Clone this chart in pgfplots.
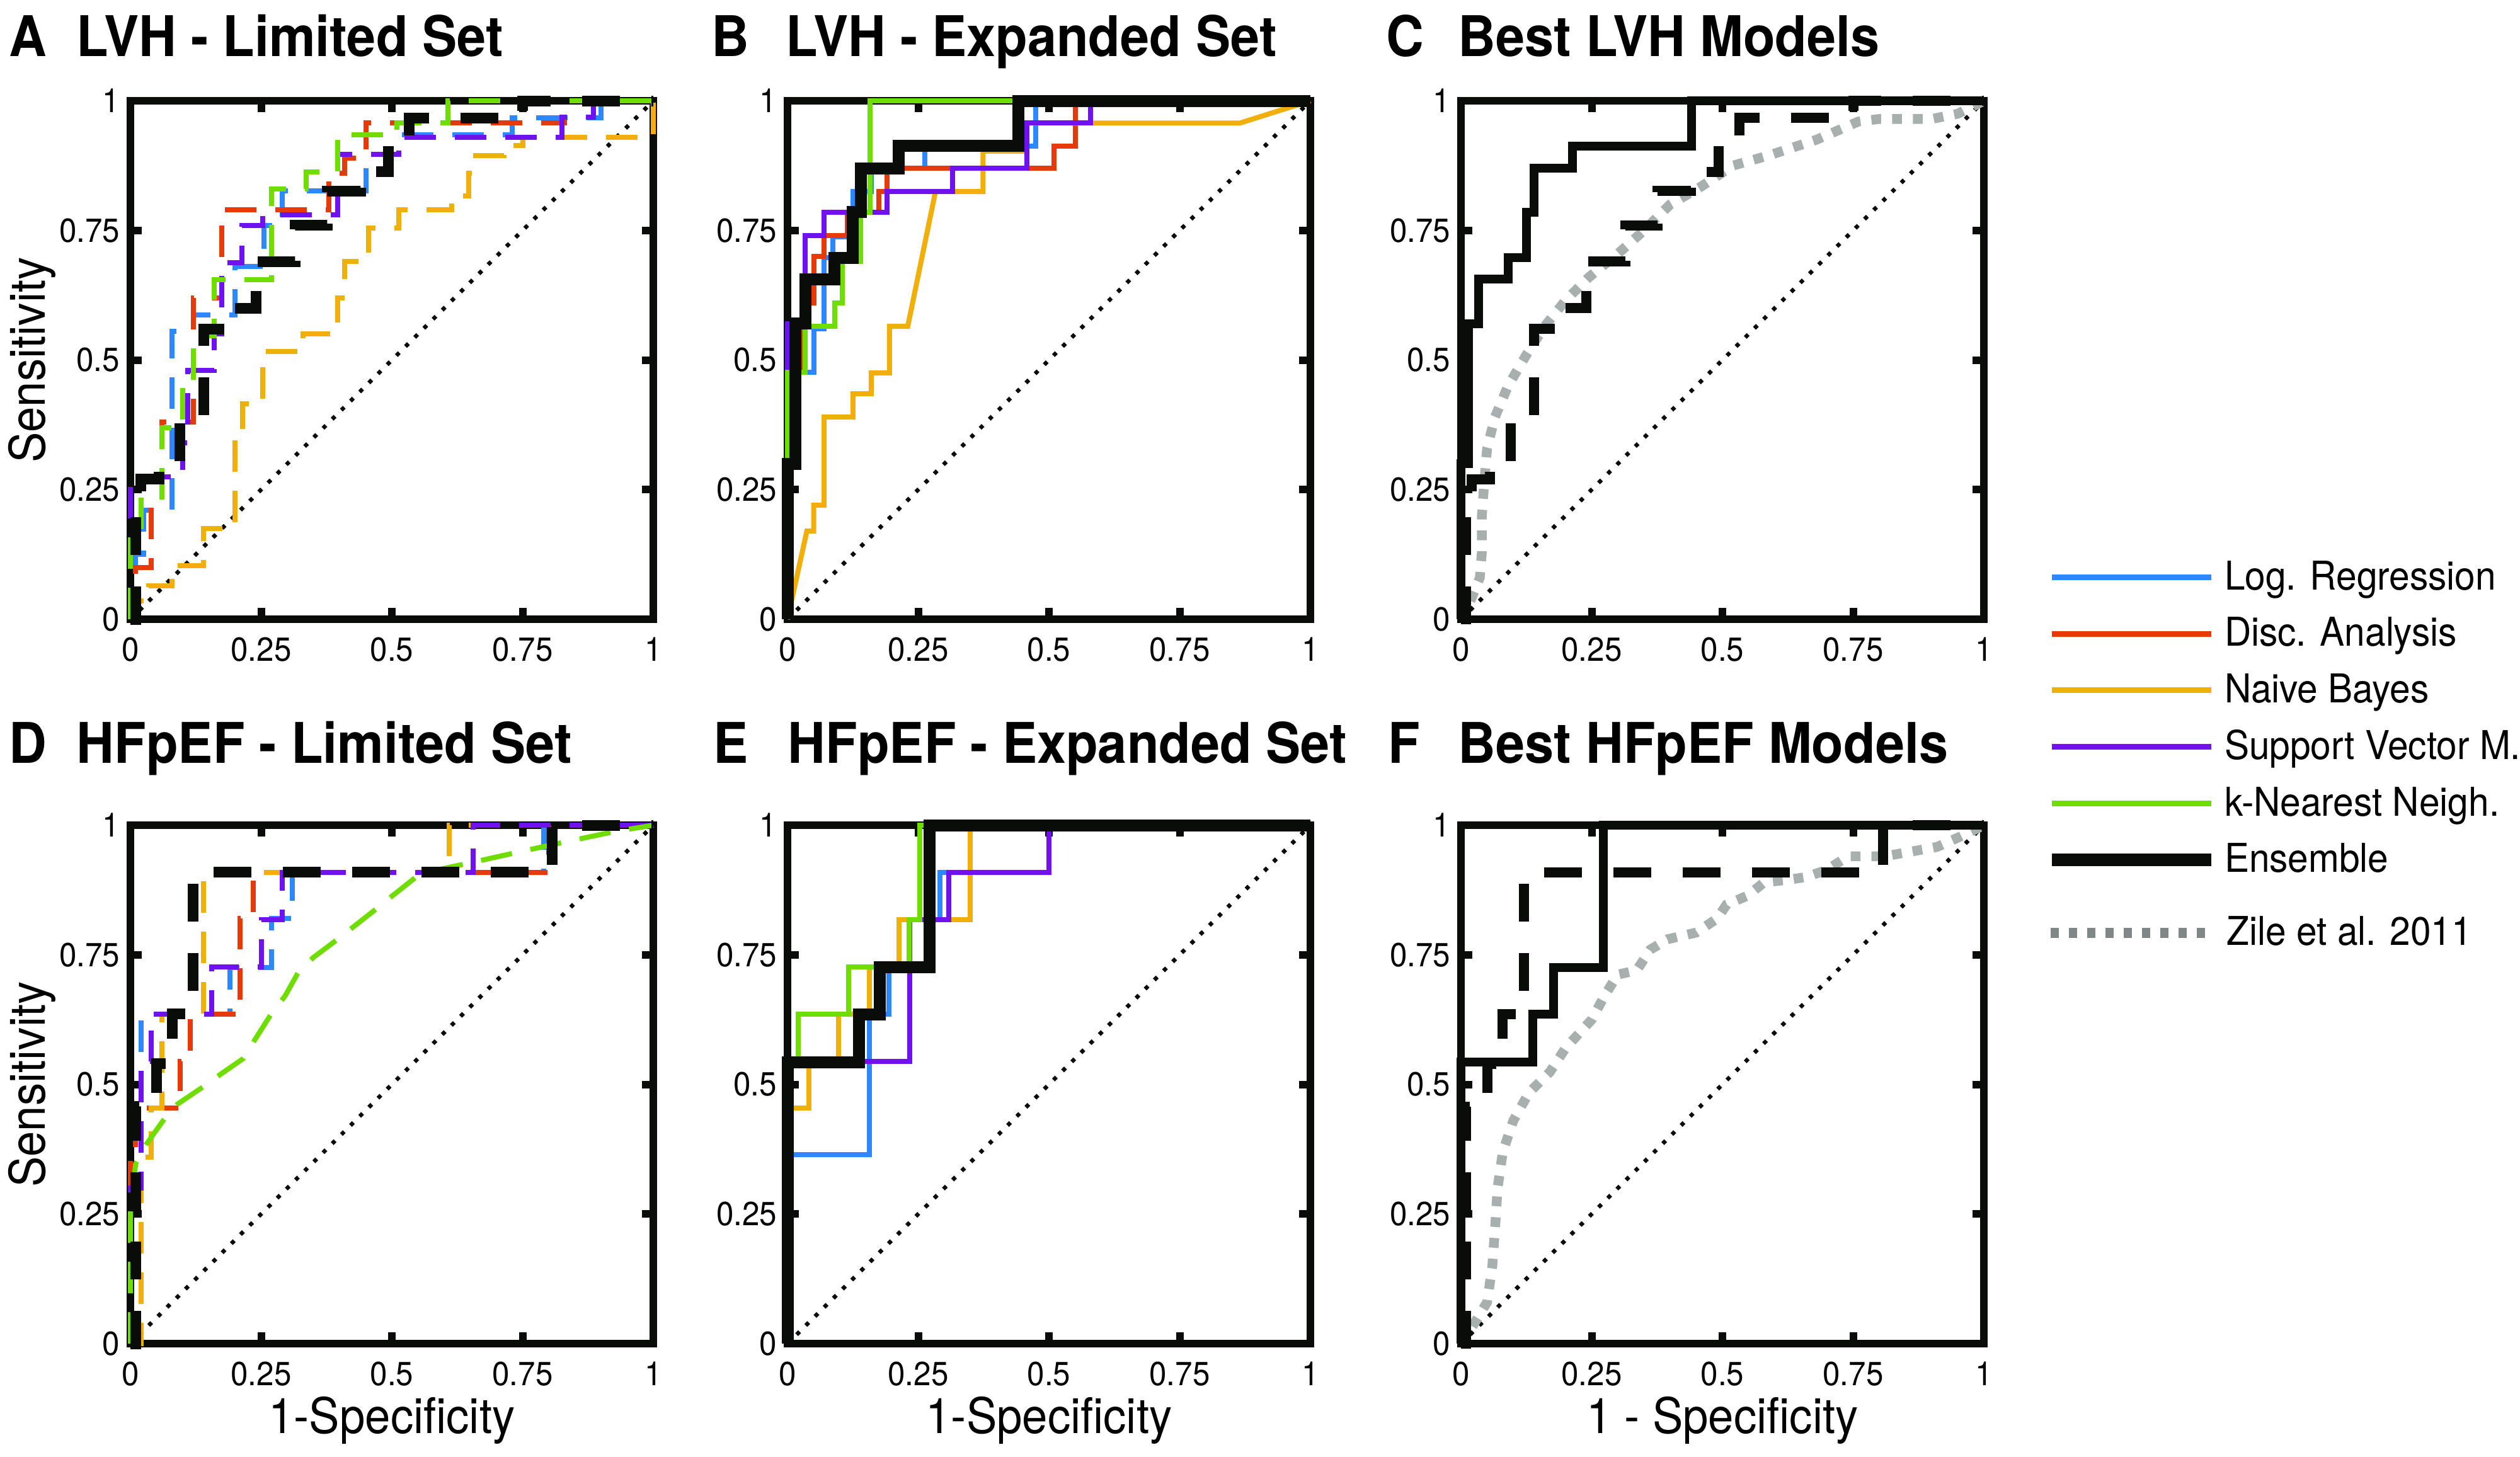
\documentclass[border=0pt]{standalone}
\usepackage{fontspec}
\setmainfont[FakeStretch=0.93]{TeX Gyre Heros}
\usepackage{pgfplots}
\usepackage{pgfplotstable}
\pgfplotsset{compat=1.18}
\definecolor{cLR}{RGB}{45,135,255}
\definecolor{cDA}{RGB}{230,58,10}
\definecolor{cNB}{RGB}{240,175,10}
\definecolor{cSVM}{RGB}{112,18,240}
\definecolor{cKNN}{RGB}{112,221,0}
\definecolor{cEns}{RGB}{10,12,10}
\definecolor{cZile}{RGB}{168,176,175}
\definecolor{cZileL}{RGB}{127,135,135}
\newcommand\lstrut{\rule[-1.4pt]{0pt}{6pt}}

% ensembles (step points: x, y after the rise at x)
\pgfplotstableread{
x y
0 0
0.01 0.20
0.02 0.27
0.055 0.30
0.095 0.385
0.14 0.56
0.18 0.60
0.24 0.69
0.315 0.76
0.376 0.826
0.44 0.863
0.493 0.93
0.533 0.967
0.75 1
1 1
}\ensA
\pgfplotstableread{
x y
0 0
0 0.30
0.015 0.57
0.034 0.656
0.09 0.697
0.125 0.785
0.14 0.87
0.213 0.913
0.441 1
1 1
}\ensB
\pgfplotstableread{
x y
0 0
0.01 0.457
0.05 0.54
0.08 0.636
0.12 0.909
0.807 1
1 1
}\ensD
\pgfplotstableread{
x y
0 0
0 0.543
0.137 0.635
0.177 0.726
0.272 1
1 1
}\ensE

\pgfplotsset{
  roc/.style={scale only axis, width=83pt, height=82.3pt,
    xmin=0, xmax=1, ymin=0, ymax=1, clip=false,
    xtick={0,0.25,0.5,0.75,1}, ytick={0,0.25,0.5,0.75,1},
    xticklabels={0,0.25,0.5,0.75,1}, yticklabels={0,0.25,0.5,0.75,1},
    tick align=inside, major tick length=1.8pt,
    every tick/.style={line width=1.2pt, cEns},
    axis line style={line width=1.2pt, cEns},
    tick label style={font=\fontsize{5.3}{6}\selectfont, inner sep=0pt},
    xticklabel style={yshift=-2.7pt},
    yticklabel style={xshift=-1.5pt},
    every axis x label/.style={at={(axis description cs:0.5,0)}, anchor=base, yshift=-14.2pt, font=\fontsize{7.8}{9}\selectfont},
    every axis y label/.style={at={(axis description cs:-0.188,0.5)}, rotate=90, anchor=center, font=\fontsize{7.8}{9}\selectfont},
    every axis title/.style={at={(axis description cs:0,1)}, anchor=base west, inner sep=0pt, font=\bfseries\fontsize{8.9}{10}\selectfont},
  },
  diag/.style={cEns, line width=0.65pt, dash pattern=on 0.65pt off 1.4pt},
  cd/.style={#1, line width=0.8pt, dash pattern=on 5pt off 3pt, const plot},
  cs/.style={#1, line width=0.8pt, const plot},
  ensd/.style={cEns, line width=1.7pt, dash pattern=on 6pt off 5pt, const plot},
  enss/.style={cEns, line width=1.9pt, const plot},
  legax/.style={hide axis, scale only axis, width=10pt, height=10pt,
    xmin=0, xmax=1, ymin=0, ymax=1, anchor=north west,
    legend cell align=left,
    legend image code/.code={\draw[##1] (0pt,0.4pt) -- (25.3pt,0.4pt);},
    legend style={at={(0,1)}, anchor=north west, draw=none, fill=none,
      inner sep=0pt, outer sep=0pt, row sep=2.85pt,
      font=\fontsize{6.3}{7}\selectfont,
      nodes={inner sep=0pt},
      /tikz/every odd column/.append style={column sep=1.1pt}}},
}

\begin{document}
\begin{tikzpicture}
\useasboundingbox (0pt,0pt) rectangle (400pt,-231.2pt);

% ---------- A ----------
\begin{axis}[roc, at={(20.7pt,-16.0pt)}, anchor=north west,
  ylabel={Sensitivity},
  title={\makebox[10.7pt][l]{A}LVH - Limited Set}, title style={xshift=-19.4pt, yshift=7.1pt}]
\addplot[diag] coordinates {(0,0) (1,1)};
\addplot[cd=cLR] coordinates {(0,0) (0.01,0.125) (0.025,0.21) (0.08,0.555) (0.12,0.587) (0.2,0.68) (0.255,0.76) (0.29,0.826) (0.45,0.934) (0.73,0.967) (0.9,1) (1,1)};
\addplot[cd=cDA] coordinates {(0,0) (0.01,0.10) (0.04,0.22) (0.06,0.38) (0.12,0.62) (0.175,0.79) (0.38,0.86) (0.41,0.89) (0.45,0.957) (0.83,1) (1,1)};
\addplot[cd=cNB] coordinates {(0,0) (0.005,0.035) (0.035,0.065) (0.08,0.103) (0.14,0.175) (0.2,0.35) (0.215,0.415) (0.253,0.517) (0.33,0.55) (0.396,0.62) (0.41,0.69) (0.455,0.755) (0.513,0.79) (0.614,0.816) (0.647,0.86) (0.66,0.894) (0.714,0.914) (0.75,0.93) (1,1)};
\addplot[cd=cSVM] coordinates {(0,0) (0,0.275) (0.1,0.34) (0.11,0.48) (0.16,0.55) (0.175,0.688) (0.213,0.76) (0.253,0.78) (0.396,0.897) (0.513,0.93) (0.825,0.968) (0.885,1) (1,1)};
\addplot[cd=cKNN] coordinates {(0,0) (0,0.16) (0.02,0.23) (0.06,0.37) (0.1,0.45) (0.12,0.547) (0.16,0.655) (0.27,0.83) (0.336,0.863) (0.396,0.934) (0.51,0.957) (0.607,1) (1,1)};
\addplot[ensd] table {\ensA};
\end{axis}

% ---------- B ----------
\begin{axis}[roc, at={(125.0pt,-16.0pt)}, anchor=north west,
  title={\makebox[11.9pt][l]{B}LVH - Expanded Set}, title style={xshift=-12.3pt, yshift=7.1pt}]
\addplot[diag] coordinates {(0,0) (1,1)};
\addplot[cs=cLR] coordinates {(0,0) (0,0.476) (0.05,0.56) (0.07,0.697) (0.087,0.737) (0.125,0.825) (0.16,0.87) (0.263,0.913) (0.475,1) (1,1)};
\addplot[cs=cDA] coordinates {(0,0) (0,0.476) (0.03,0.61) (0.05,0.70) (0.07,0.74) (0.115,0.785) (0.175,0.825) (0.19,0.87) (0.51,0.913) (0.55,1) (1,1)};
\addplot[cNB, line width=0.8pt] coordinates {(0,0) (0.037,0.17) (0.05,0.17) (0.05,0.22) (0.07,0.22) (0.07,0.39) (0.125,0.39) (0.125,0.435) (0.16,0.435) (0.16,0.475) (0.195,0.475) (0.195,0.565) (0.23,0.565) (0.283,0.825) (0.374,0.825) (0.374,0.903) (0.455,0.903) (0.455,0.957) (0.865,0.957) (1,1)};
\addplot[cs=cSVM] coordinates {(0,0) (0,0.57) (0.034,0.74) (0.07,0.785) (0.19,0.825) (0.316,0.87) (0.458,0.957) (0.58,1) (1,1)};
\addplot[cs=cKNN] coordinates {(0,0) (0,0.476) (0.034,0.565) (0.09,0.61) (0.105,0.69) (0.14,0.785) (0.158,1) (1,1)};
\addplot[enss] table {\ensB};
\end{axis}

% ---------- C ----------
\begin{axis}[roc, at={(231.9pt,-16.0pt)}, anchor=north west,
  title={\makebox[11.5pt][l]{C}Best LVH Models}, title style={xshift=-12.1pt, yshift=7.1pt}]
\addplot[diag] coordinates {(0,0) (1,1)};
\addplot[cZile, line width=1.55pt, dash pattern=on 1.55pt off 1.75pt] coordinates {(0,0) (0.02,0.04) (0.036,0.08) (0.04,0.13) (0.04,0.2) (0.045,0.27) (0.05,0.33) (0.065,0.39) (0.09,0.45) (0.125,0.51) (0.16,0.565) (0.2,0.615) (0.245,0.66) (0.3,0.705) (0.35,0.75) (0.4,0.8) (0.46,0.835) (0.52,0.875) (0.59,0.895) (0.68,0.925) (0.76,0.96) (0.8,0.965) (0.9,0.965) (0.95,0.975) (1,1)};
\addplot[ensd, line width=1.6pt] table {\ensA};
\addplot[enss, line width=1.4pt] table {\ensB};
\end{axis}

% ---------- D ----------
\begin{axis}[roc, at={(20.7pt,-131.0pt)}, anchor=north west,
  ylabel={Sensitivity}, xlabel={1-Specificity},
  title={\makebox[10.7pt][l]{D}HFpEF - Limited Set}, title style={xshift=-19.4pt, yshift=9.9pt}]
\addplot[diag] coordinates {(0,0) (1,1)};
\addplot[cd=cLR] coordinates {(0,0) (0,0.36) (0.02,0.636) (0.19,0.725) (0.27,0.82) (0.31,0.909) (0.79,1) (1,1)};
\addplot[cd=cDA] coordinates {(0,0) (0,0.36) (0.01,0.455) (0.095,0.545) (0.115,0.636) (0.21,0.82) (0.235,0.909) (0.80,1) (1,1)};
\addplot[cd=cNB] coordinates {(0,0) (0.02,0.36) (0.04,0.455) (0.06,0.636) (0.14,0.909) (0.61,1) (1,1)};
\addplot[cd=cSVM] coordinates {(0,0) (0,0.3) (0.02,0.545) (0.04,0.636) (0.155,0.727) (0.25,0.818) (0.29,0.909) (0.655,1) (1,1)};
\addplot[cKNN, line width=0.8pt, dash pattern=on 5pt off 3pt] coordinates {(0,0) (0,0.25) (0.01,0.347) (0.03,0.384) (0.066,0.435) (0.09,0.462) (0.14,0.496) (0.173,0.52) (0.216,0.55) (0.236,0.583) (0.27,0.637) (0.296,0.671) (0.322,0.718) (0.35,0.745) (0.395,0.779) (0.472,0.84) (0.5,0.863) (0.555,0.907) (0.648,0.927) (0.737,0.947) (0.814,0.964) (0.927,0.988) (1,1)};
\addplot[ensd] table {\ensD};
\end{axis}

% ---------- E ----------
\begin{axis}[roc, at={(125.0pt,-131.0pt)}, anchor=north west,
  xlabel={1-Specificity},
  title={\makebox[11.9pt][l]{E}HFpEF - Expanded Set}, title style={xshift=-12.0pt, yshift=9.9pt}]
\addplot[diag] coordinates {(0,0) (1,1)};
\addplot[cs=cLR] coordinates {(0,0) (0,0.364) (0.157,0.636) (0.194,0.727) (0.272,0.818) (0.292,0.909) (0.349,1) (1,1)};
\addplot[cs=cNB] coordinates {(0,0) (0,0.455) (0.041,0.545) (0.097,0.636) (0.157,0.727) (0.213,0.818) (0.349,1) (1,1)};
\addplot[cs=cSVM] coordinates {(0,0) (0,0.545) (0.234,0.818) (0.309,0.909) (0.5,1) (1,1)};
\addplot[cs=cKNN] coordinates {(0,0) (0,0.545) (0.021,0.636) (0.117,0.727) (0.233,0.818) (0.253,1) (1,1)};
\addplot[enss] table {\ensE};
\end{axis}

% ---------- F ----------
\begin{axis}[roc, at={(231.9pt,-131.0pt)}, anchor=north west,
  xlabel={1 - Specificity},
  title={\makebox[11.2pt][l]{F}Best HFpEF Models}, title style={xshift=-11.8pt, yshift=9.9pt}]
\addplot[diag] coordinates {(0,0) (1,1)};
\addplot[cZile, line width=1.55pt, dash pattern=on 1.55pt off 1.75pt] coordinates {(0,0) (0.01,0.013) (0.05,0.08) (0.06,0.15) (0.066,0.235) (0.07,0.30) (0.08,0.37) (0.1,0.43) (0.13,0.484) (0.17,0.524) (0.2,0.57) (0.25,0.625) (0.275,0.672) (0.3,0.712) (0.336,0.72) (0.362,0.76) (0.395,0.78) (0.45,0.793) (0.49,0.82) (0.508,0.847) (0.548,0.864) (0.58,0.89) (0.62,0.894) (0.66,0.9) (0.70,0.914) (0.74,0.94) (0.81,0.94) (0.91,0.958) (0.955,0.978) (1,1)};
\addplot[ensd, line width=1.6pt] table {\ensD};
\addplot[enss, line width=1.4pt] table {\ensE};
\end{axis}

% ---------- Legend (models) ----------
\begin{axis}[legax, at={(324.7pt,-89.0pt)}]
\addlegendimage{cLR, line width=0.9pt}\addlegendentry{\lstrut Log. Regression}
\addlegendimage{cDA, line width=0.9pt}\addlegendentry{\lstrut Disc. Analysis}
\addlegendimage{cNB, line width=0.9pt}\addlegendentry{\lstrut Naive Bayes}
\addlegendimage{cSVM, line width=0.9pt}\addlegendentry{\lstrut Support Vector M.}
\addlegendimage{cKNN, line width=0.9pt}\addlegendentry{\lstrut k-Nearest Neigh.}
\addlegendimage{cEns, line width=2pt}\addlegendentry{\lstrut Ensemble}
\end{axis}
% ---------- Legend (Zile) ----------
\begin{axis}[legax, at={(324.7pt,-145.4pt)},
  legend image code/.code={\draw[#1] (0.2pt,0.4pt) -- (26pt,0.4pt);},
  legend style={/tikz/every odd column/.append style={column sep=1.4pt}}]
\addlegendimage{cZileL, line width=1.6pt, dash pattern=on 1.3pt off 1.6pt}\addlegendentry{\lstrut Zile et al. 2011}
\end{axis}
\end{tikzpicture}
\end{document}
